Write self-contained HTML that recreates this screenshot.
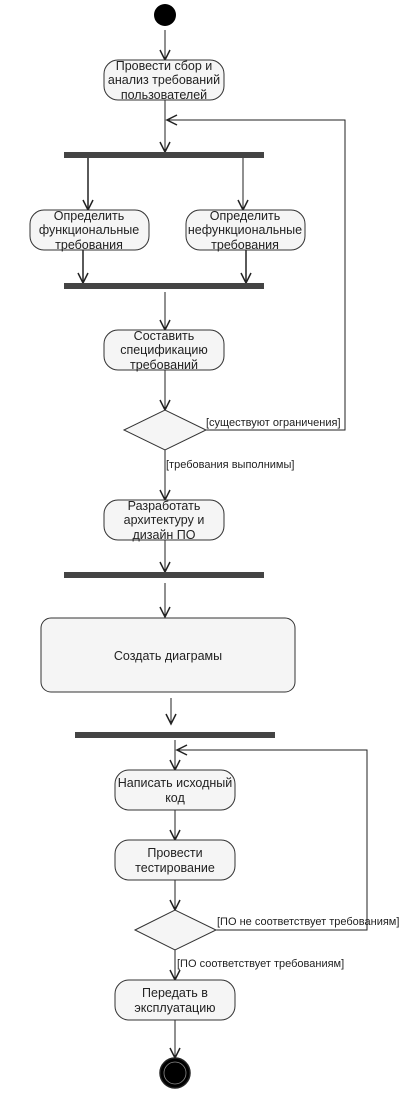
<!DOCTYPE html>
<html><head><meta charset="utf-8"><style>
html,body{margin:0;padding:0;background:#fff;}
svg text{font-family:"Liberation Sans",sans-serif;font-size:12.5px;fill:#222;}
</style></head><body>
<svg width="418" height="1089" viewBox="0 0 418 1089" xmlns="http://www.w3.org/2000/svg">
<defs>
<g id="ah"><path d="M-5,-10 L0,0 L5,-10" fill="none" stroke="#222" stroke-width="1.5"/></g>
</defs>
<g stroke="#222" stroke-width="1" fill="none">
<line x1="165" y1="30" x2="165" y2="60"/>
<line x1="165" y1="100" x2="165" y2="152"/>
<polyline points="345,428 345,120 167,120"/>
<line x1="88" y1="158" x2="88" y2="210" stroke-width="1.5"/>
<line x1="243" y1="158" x2="243" y2="210"/>
<line x1="83" y1="250" x2="83" y2="283" stroke-width="1.5"/>
<line x1="246" y1="250" x2="246" y2="283" stroke-width="1.5"/>
<line x1="165" y1="292" x2="165" y2="330"/>
<line x1="165" y1="370" x2="165" y2="410"/>
<polyline points="206,430 345,430 345,428"/>
<line x1="165" y1="450" x2="165" y2="500"/>
<line x1="165" y1="540" x2="165" y2="572"/>
<line x1="165" y1="583" x2="165" y2="617"/>
<line x1="171" y1="698" x2="171" y2="724"/>
<line x1="175" y1="740" x2="175" y2="770"/>
<polyline points="216,930 367,930 367,750 177,750"/>
<line x1="175" y1="810" x2="175" y2="840"/>
<line x1="175" y1="880" x2="175" y2="910"/>
<line x1="175" y1="950" x2="175" y2="980"/>
<line x1="175" y1="1020" x2="175" y2="1058"/>
</g>
<use href="#ah" x="165" y="60"/>
<use href="#ah" x="165" y="152"/>
<use href="#ah" x="88" y="210"/>
<use href="#ah" x="243" y="210"/>
<use href="#ah" x="83" y="283"/>
<use href="#ah" x="246" y="283"/>
<use href="#ah" x="165" y="330"/>
<use href="#ah" x="165" y="410"/>
<use href="#ah" x="165" y="500"/>
<use href="#ah" x="165" y="572"/>
<use href="#ah" x="165" y="617"/>
<use href="#ah" x="171" y="724"/>
<use href="#ah" x="175" y="770"/>
<use href="#ah" x="175" y="840"/>
<use href="#ah" x="175" y="910"/>
<use href="#ah" x="175" y="980"/>
<use href="#ah" x="175" y="1058"/>
<g transform="translate(167,120) rotate(90)"><use href="#ah"/></g>
<g transform="translate(177,750) rotate(90)"><use href="#ah"/></g>
<circle cx="165" cy="15" r="11" fill="#000"/>
<g fill="#444">
<rect x="64" y="152" width="200" height="6"/>
<rect x="64" y="283" width="200" height="6"/>
<rect x="64" y="572" width="200" height="6"/>
<rect x="75" y="732" width="200" height="6"/>
</g>
<g fill="#f5f5f5" stroke="#333" stroke-width="1">
<rect x="104" y="60" width="120" height="40" rx="14"/>
<rect x="30" y="210" width="119" height="40" rx="14"/>
<rect x="186" y="210" width="119" height="40" rx="14"/>
<rect x="104" y="330" width="120" height="40" rx="14"/>
<polygon points="124,430 165,410 206,430 165,450"/>
<rect x="104" y="500" width="120" height="40" rx="14"/>
<rect x="41" y="618" width="254" height="74" rx="10"/>
<rect x="115" y="770" width="120" height="40" rx="14"/>
<rect x="115" y="840" width="120" height="40" rx="14"/>
<polygon points="135,930 175,910 216,930 175,950"/>
<rect x="115" y="980" width="120" height="40" rx="14"/>
</g>
<circle cx="175" cy="1073" r="15" fill="#000" stroke="#222" stroke-width="1.5"/>
<circle cx="175" cy="1073" r="11" fill="none" stroke="#888" stroke-width="0.8"/>
<g text-anchor="middle">
<text x="164" y="70">Провести сбор и</text>
<text x="164" y="84">анализ требований</text>
<text x="164" y="99">пользователей</text>
<text x="89" y="220">Определить</text>
<text x="89" y="234">функциональные</text>
<text x="89" y="249">требования</text>
<text x="245" y="220">Определить</text>
<text x="245" y="234">нефункциональные</text>
<text x="245" y="249">требования</text>
<text x="164" y="340">Составить</text>
<text x="164" y="354">спецификацию</text>
<text x="164" y="369">требований</text>
<text x="164" y="510">Разработать</text>
<text x="164" y="524">архитектуру и</text>
<text x="164" y="539">дизайн ПО</text>
<text x="168" y="660">Создать диаграмы</text>
<text x="175" y="787">Написать исходный</text>
<text x="175" y="802">код</text>
<text x="175" y="857">Провести</text>
<text x="175" y="872">тестирование</text>
<text x="175" y="997">Передать в</text>
<text x="175" y="1012">эксплуатацию</text>
</g>
<text x="206" y="426" style="font-size:11px">[существуют ограничения]</text>
<text x="166" y="468" style="font-size:11px">[требования выполнимы]</text>
<text x="217" y="925" style="font-size:11px">[ПО не соответствует требованиям]</text>
<text x="177" y="967" style="font-size:11px">[ПО соответствует требованиям]</text>
</svg>
</body></html>
